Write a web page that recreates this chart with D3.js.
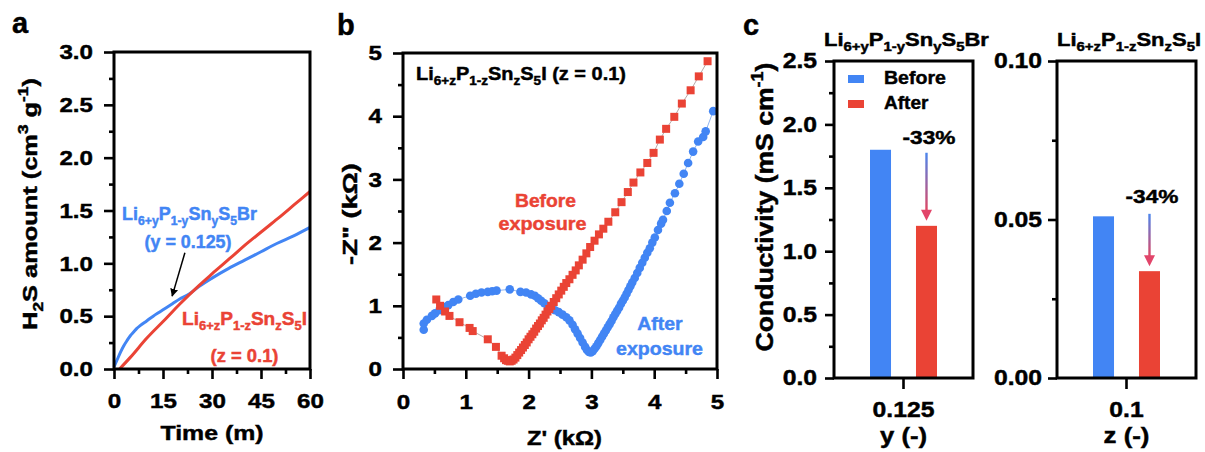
<!DOCTYPE html>
<html>
<head>
<meta charset="utf-8">
<script src="https://cdn.jsdelivr.net/npm/d3@7"></script>
<style>
  html, body { margin: 0; padding: 0; background: #fff; }
  svg { display: block; }
  text { font-family: "Liberation Sans", Arial, Helvetica, sans-serif; font-weight: bold; }
</style>
</head>
<body>
<svg id="fig" width="1205" height="452"></svg>
<script>
// ---------- data ----------
// Panel a: H2S evolution vs time (min, cm^3 g^-1)
const timeBr = [0, 1, 2, 3, 4, 5, 6, 7, 8, 10, 12, 14, 16, 18, 20, 23, 26, 30, 35, 40, 45, 50, 55, 60];
const h2sBr  = [0.02, 0.09, 0.16, 0.22, 0.27, 0.315, 0.35, 0.385, 0.41, 0.455, 0.50, 0.54, 0.58, 0.62, 0.66, 0.71, 0.78, 0.86, 0.95, 1.03, 1.11, 1.19, 1.26, 1.34];
const timeI  = [1.7, 5, 10, 16, 20, 26, 30, 36, 40, 46, 50, 55, 60];
const h2sI   = [0.0, 0.11, 0.29, 0.48, 0.61, 0.79, 0.90, 1.06, 1.17, 1.32, 1.42, 1.55, 1.68];
const timeTicks = [0, 15, 30, 45, 60];
const h2sTicks = [0, 0.5, 1.0, 1.5, 2.0, 2.5, 3.0];

// Panel b: Nyquist plot, Z' and -Z'' in kOhm
const zReBefore = [0.53, 0.59, 0.67, 0.74, 0.90, 1.06, 1.11, 1.35, 1.48, 1.57,
  1.61, 1.64, 1.67, 1.70, 1.73, 1.76, 1.79, 1.82, 1.85, 1.88, 1.91, 1.94, 1.97, 2.00, 2.03, 2.06, 2.09, 2.12, 2.15, 2.18,
  2.21, 2.24, 2.27, 2.30, 2.33, 2.36, 2.40, 2.44, 2.48, 2.52, 2.56, 2.60, 2.65, 2.70, 2.75, 2.80, 2.86, 2.92, 2.98, 3.05,
  3.12, 3.19, 3.27, 3.38, 3.48, 3.58, 3.67, 3.78, 3.89, 3.99, 4.09, 4.19, 4.32, 4.44, 4.58, 4.71, 4.85];
const zImBefore = [1.10, 1.00, 0.91, 0.84, 0.74, 0.65, 0.60, 0.47, 0.35, 0.21,
  0.17, 0.14, 0.13, 0.12, 0.13, 0.15, 0.18, 0.22, 0.26, 0.30, 0.34, 0.38, 0.42, 0.47, 0.51, 0.55, 0.59, 0.64, 0.68, 0.72,
  0.77, 0.81, 0.86, 0.91, 0.95, 1.00, 1.06, 1.12, 1.18, 1.24, 1.30, 1.36, 1.42, 1.49, 1.56, 1.64, 1.73, 1.83, 1.93, 2.03,
  2.13, 2.22, 2.33, 2.48, 2.64, 2.80, 2.95, 3.11, 3.26, 3.42, 3.63, 3.80, 3.99, 4.20, 4.41, 4.63, 4.87];
const zReAfter = [0.33, 0.33, 0.38, 0.46, 0.51, 0.58, 0.65, 0.72, 0.80, 0.88, 1.07, 1.16, 1.25, 1.35, 1.42, 1.49, 1.70, 1.87, 1.96,
  2.04, 2.10, 2.15, 2.20, 2.25, 2.31, 2.36, 2.42, 2.48, 2.54, 2.60, 2.65, 2.70, 2.74, 2.78, 2.82, 2.86, 2.90, 2.93, 2.96, 2.99,
  3.02, 3.05, 3.08, 3.11, 3.14, 3.17, 3.20, 3.23, 3.26, 3.29, 3.32, 3.35, 3.38, 3.41, 3.44, 3.47, 3.50, 3.53, 3.56, 3.59,
  3.62, 3.65, 3.69, 3.73, 3.77, 3.81, 3.85, 3.89, 3.93, 3.97, 4.01, 4.06, 4.11, 4.14, 4.20, 4.25, 4.33, 4.40, 4.47, 4.54,
  4.62, 4.70, 4.78, 4.82, 4.94];
const zImAfter = [0.62, 0.72, 0.78, 0.84, 0.88, 0.93, 0.98, 1.01, 1.06, 1.10, 1.16, 1.19, 1.21, 1.22, 1.23, 1.24, 1.26, 1.22, 1.21,
  1.18, 1.16, 1.12, 1.08, 1.04, 0.99, 0.96, 0.93, 0.90, 0.86, 0.82, 0.77, 0.70, 0.63, 0.56, 0.49, 0.42, 0.35, 0.30, 0.27, 0.26,
  0.28, 0.32, 0.36, 0.41, 0.46, 0.51, 0.56, 0.61, 0.66, 0.71, 0.76, 0.82, 0.87, 0.92, 0.97, 1.03, 1.08, 1.13, 1.19, 1.25,
  1.31, 1.37, 1.44, 1.52, 1.60, 1.68, 1.76, 1.84, 1.91, 2.00, 2.08, 2.20, 2.30, 2.36, 2.50, 2.63, 2.78, 2.93, 3.09, 3.26,
  3.44, 3.60, 3.67, 3.76, 4.08];
const zTicks = [0, 1, 2, 3, 4, 5];

// Panel c: conductivity before / after exposure (mS cm^-1)
const seriesNames = ["Before", "After"];
const brComposition = ["0.125"];
const brConductivity = [1.80, 1.20];
const brChange = "-33%";
const brTicks = [0, 0.5, 1.0, 1.5, 2.0, 2.5];
const iComposition = ["0.1"];
const iConductivity = [0.051, 0.0337];
const iChange = "-34%";
const iTicks = [0, 0.05, 0.10];

// ---------- styling ----------
const BLUE = "#4285F4";
const RED = "#EA4335";
const TICK_SX = 1.15;
const HEAVY = 0.45;   // outline added to glyphs for a heavier bold

const svg = d3.select("#fig");
const defs = svg.append("defs");

// text with sub/superscripts, horizontally fitted to a width or stretched by a factor
function addText(parent, o) {
  const size = o.size || 18;
  const fill = o.fill || "#000";
  const t = parent.append("text")
    .attr("x", 0).attr("y", 0)
    .attr("text-anchor", o.anchor || "middle")
    .attr("font-size", size)
    .attr("fill", fill)
    .attr("stroke", fill).attr("stroke-width", HEAVY);
  const parts = typeof o.parts === "string" ? [[o.parts, ""]] : o.parts;
  let shift = 0;
  parts.forEach(([s, kind]) => {
    let target = 0, fs = size;
    if (kind === "sub") { target = 0.30 * size; fs = 0.68 * size; }
    if (kind === "sup") { target = -0.42 * size; fs = 0.68 * size; }
    t.append("tspan").attr("dy", target - shift).attr("font-size", fs).text(s);
    shift = target;
  });
  let sx = o.sx || 1;
  if (o.width) {
    const w = t.node().getBBox().width;
    sx = o.width / w;
  }
  t.attr("transform", `translate(${o.x},${o.y}) rotate(${o.rotate || 0}) scale(${sx},1)`);
  t.attr("data-sx", sx);
  return t;
}

function stretchTicks(g, size) {
  g.selectAll(".tick text").each(function () {
    const t = d3.select(this);
    const x = +t.attr("x") || 0, y = +t.attr("y") || 0;
    t.attr("x", null).attr("y", null)
      .attr("font-size", size)
      .attr("stroke", "#000").attr("stroke-width", HEAVY)
      .attr("transform", `translate(${x},${y}) scale(${TICK_SX},1)`);
  });
}

function styleAxis(g) {
  g.select(".domain").remove();
  g.selectAll(".tick line").attr("stroke", "#000").attr("stroke-width", 2.6);
  g.selectAll(".tick text").attr("fill", "#000").attr("font-family", null);
  g.attr("font-family", null).attr("font-size", null);
}

function frame(x0, x1, y0, y1) {
  svg.append("rect")
    .attr("x", x0).attr("y", y1).attr("width", x1 - x0).attr("height", y0 - y1)
    .attr("fill", "none").attr("stroke", "#000").attr("stroke-width", 3);
}

function mids(ticks) {
  const m = [];
  for (let i = 0; i < ticks.length - 1; i++) m.push((ticks[i] + ticks[i + 1]) / 2);
  return m;
}

// arrowhead marker
defs.append("marker").attr("id", "arrBlack")
  .attr("viewBox", "0 0 10 10").attr("refX", 9).attr("refY", 5)
  .attr("markerWidth", 8).attr("markerHeight", 8).attr("markerUnits", "userSpaceOnUse")
  .attr("orient", "auto")
  .append("path").attr("d", "M0,0 L10,5 L0,10 z").attr("fill", "#000");

// ---------- panel a ----------
const xA = d3.scaleLinear().domain([0, 60]).range([114, 310]);
const yA = d3.scaleLinear().domain([0, 3]).range([369, 52]);

const lineA = d3.line().x(d => xA(d[0])).y(d => yA(d[1])).curve(d3.curveMonotoneX);
svg.append("path").datum(timeBr.map((t, i) => [t, h2sBr[i]]))
  .attr("d", lineA).attr("fill", "none").attr("stroke", BLUE).attr("stroke-width", 3);
svg.append("path").datum(timeI.map((t, i) => [t, h2sI[i]]))
  .attr("d", lineA).attr("fill", "none").attr("stroke", RED).attr("stroke-width", 3);

let g;
g = svg.append("g").attr("transform", `translate(${xA.range()[0]},0)`)
  .call(d3.axisLeft(yA).tickValues(h2sTicks).tickFormat(d3.format(".1f")).tickSize(10).tickPadding(11));
styleAxis(g); stretchTicks(g, 21);
g = svg.append("g").attr("transform", `translate(${xA.range()[0]},0)`)
  .call(d3.axisLeft(yA).tickValues(mids(h2sTicks)).tickFormat("").tickSize(5));
styleAxis(g);
g = svg.append("g").attr("transform", `translate(0,${yA.range()[0]})`)
  .call(d3.axisBottom(xA).tickValues(timeTicks).tickFormat(d3.format("d")).tickSize(10).tickPadding(14));
styleAxis(g); stretchTicks(g, 21);
g = svg.append("g").attr("transform", `translate(0,${yA.range()[0]})`)
  .call(d3.axisBottom(xA).tickValues(mids(timeTicks)).tickFormat("").tickSize(5));
styleAxis(g);
frame(114, 310, 369, 52);

addText(svg, { x: 37, y: 204, rotate: -90, size: 21, width: 252,
  parts: [["H", ""], ["2", "sub"], ["S amount (cm", ""], ["3", "sup"], [" g", ""], ["-1", "sup"], [")", ""]] });
addText(svg, { x: 212, y: 440, size: 21, width: 103, parts: "Time (m)" });

addText(svg, { x: 189.5, y: 220, size: 18, width: 135, fill: BLUE,
  parts: [["Li", ""], ["6+y", "sub"], ["P", ""], ["1-y", "sub"], ["Sn", ""], ["y", "sub"], ["S", ""], ["5", "sub"], ["Br", ""]] });
addText(svg, { x: 188, y: 248, size: 18, width: 87, fill: BLUE, parts: "(y = 0.125)" });
addText(svg, { x: 244.5, y: 325, size: 18, width: 125, fill: RED,
  parts: [["Li", ""], ["6+z", "sub"], ["P", ""], ["1-z", "sub"], ["Sn", ""], ["z", "sub"], ["S", ""], ["5", "sub"], ["I", ""]] });
addText(svg, { x: 244.5, y: 362, size: 18, width: 68, fill: RED, parts: "(z = 0.1)" });

// pointer from the Br label down to its curve
svg.append("line")
  .attr("x1", xA(21.7)).attr("y1", yA(1.10))
  .attr("x2", xA(17.8)).attr("y2", yA(0.69))
  .attr("stroke", "#000").attr("stroke-width", 1.5)
  .attr("marker-end", "url(#arrBlack)");

addText(svg, { x: 12, y: 33, size: 29, anchor: "start", parts: "a" });

// ---------- panel b ----------
const xB = d3.scaleLinear().domain([0, 5]).range([403, 717]);
const yB = d3.scaleLinear().domain([0, 5]).range([369, 53]);

const lineB = d3.line().x(d => xB(d[0])).y(d => yB(d[1]));
const after = zReAfter.map((x, i) => [x, zImAfter[i]]);
const before = zReBefore.map((x, i) => [x, zImBefore[i]]);

svg.append("path").datum(after).attr("d", lineB)
  .attr("fill", "none").attr("stroke", "#8fb4f0").attr("stroke-width", 1);
svg.append("g").selectAll("circle").data(after).join("circle")
  .attr("cx", d => xB(d[0])).attr("cy", d => yB(d[1])).attr("r", 4.3)
  .attr("fill", BLUE);

svg.append("path").datum(before).attr("d", lineB)
  .attr("fill", "none").attr("stroke", "#b8a8a8").attr("stroke-width", 1);
svg.append("g").selectAll("rect").data(before).join("rect")
  .attr("x", d => xB(d[0]) - 4).attr("y", d => yB(d[1]) - 4)
  .attr("width", 8).attr("height", 8)
  .attr("fill", RED);

g = svg.append("g").attr("transform", `translate(${xB.range()[0]},0)`)
  .call(d3.axisLeft(yB).tickValues(zTicks).tickFormat(d3.format("d")).tickSize(10).tickPadding(11));
styleAxis(g); stretchTicks(g, 21);
g = svg.append("g").attr("transform", `translate(${xB.range()[0]},0)`)
  .call(d3.axisLeft(yB).tickValues(mids(zTicks)).tickFormat("").tickSize(5));
styleAxis(g);
g = svg.append("g").attr("transform", `translate(0,${yB.range()[0]})`)
  .call(d3.axisBottom(xB).tickValues(zTicks).tickFormat(d3.format("d")).tickSize(10).tickPadding(15));
styleAxis(g); stretchTicks(g, 21);
g = svg.append("g").attr("transform", `translate(0,${yB.range()[0]})`)
  .call(d3.axisBottom(xB).tickValues(mids(zTicks)).tickFormat("").tickSize(5));
styleAxis(g);
frame(403, 717, 369, 53);

addText(svg, { x: 357, y: 214, rotate: -90, size: 21, width: 102, parts: "-Z\" (k\u03A9)" });
addText(svg, { x: 564.5, y: 445, size: 21, width: 75, parts: "Z' (k\u03A9)" });

addText(svg, { x: 416, y: 80, size: 18, anchor: "start", width: 210,
  parts: [["Li", ""], ["6+z", "sub"], ["P", ""], ["1-z", "sub"], ["Sn", ""], ["z", "sub"], ["S", ""], ["5", "sub"], ["I (z = 0.1)", ""]] });
addText(svg, { x: 545.5, y: 207, size: 19, width: 61, fill: RED, parts: "Before" });
addText(svg, { x: 542.5, y: 230, size: 19, width: 88, fill: RED, parts: "exposure" });
addText(svg, { x: 660, y: 330, size: 19, width: 46, fill: BLUE, parts: "After" });
addText(svg, { x: 659.5, y: 355, size: 19, width: 87, fill: BLUE, parts: "exposure" });

addText(svg, { x: 337, y: 35, size: 29, anchor: "start", parts: "b" });

// ---------- panel c ----------
const yC1 = d3.scaleLinear().domain([0, 2.5]).range([378, 61]);
const yC2 = d3.scaleLinear().domain([0, 0.1]).range([378, 61]);
const xC1 = d3.scaleBand().domain(brComposition).range([834, 973]);
const xC2 = d3.scaleBand().domain(iComposition).range([1057, 1196]);
const xInner = d3.scaleBand().domain(seriesNames).range([-46, 46]).paddingInner(0.543).paddingOuter(0.272);
const color = d3.scaleOrdinal().domain(seriesNames).range([BLUE, RED]);

const lg = defs.append("linearGradient").attr("id", "gradDown")
  .attr("x1", 0).attr("y1", 0).attr("x2", 0).attr("y2", 1);
lg.append("stop").attr("offset", "0%").attr("stop-color", "#4a86ee");
lg.append("stop").attr("offset", "100%").attr("stop-color", "#e4455f");

function barPanel(xS, yS, comp, vals, change, ticks, fmt, tickPad, arrowGap, labelLift) {
  const cx = xS(comp[0]) + xS.bandwidth() / 2;
  svg.append("g").selectAll("rect").data(seriesNames).join("rect")
    .attr("x", (s) => cx + xInner(s))
    .attr("y", (s, i) => yS(vals[i]))
    .attr("width", xInner.bandwidth())
    .attr("height", (s, i) => yS(0) - yS(vals[i]))
    .attr("fill", s => color(s));

  // drop arrow from the before level to the after level
  const ax = cx + xInner("After") + xInner.bandwidth() / 2;
  const yTop = yS(vals[0]) + arrowGap, yTip = yS(vals[1]) - 5;
  svg.append("rect").attr("x", ax - 1.2).attr("y", yTop).attr("width", 2.4).attr("height", yTip - yTop - 9)
    .attr("fill", "url(#gradDown)");
  svg.append("path")
    .attr("d", `M${ax - 5.5},${yTip - 11} L${ax + 5.5},${yTip - 11} L${ax},${yTip} Z`)
    .attr("fill", "#e2456a");
  addText(svg, { x: ax + 2.5, y: yS(vals[0]) - labelLift, size: 19, width: 53, parts: change });

  let ga = svg.append("g").attr("transform", `translate(${xS.range()[0]},0)`)
    .call(d3.axisLeft(yS).tickValues(ticks).tickFormat(fmt).tickSize(9).tickPadding(tickPad));
  styleAxis(ga); stretchTicks(ga, 21.5);
  ga = svg.append("g").attr("transform", `translate(${xS.range()[0]},0)`)
    .call(d3.axisLeft(yS).tickValues(mids(ticks)).tickFormat("").tickSize(5));
  styleAxis(ga);
  ga = svg.append("g").attr("transform", `translate(0,${yS.range()[0]})`)
    .call(d3.axisBottom(xS).tickSize(11).tickPadding(13));
  styleAxis(ga); stretchTicks(ga, 21.5);
  frame(xS.range()[0], xS.range()[1], yS.range()[0], yS.range()[1]);
}

barPanel(xC1, yC1, brComposition, brConductivity, brChange, brTicks, d3.format(".1f"), 8, 3, 6);
barPanel(xC2, yC2, iComposition, iConductivity, iChange, iTicks, d3.format(".2f"), 6, -2.5, 13.5);

// legend
seriesNames.forEach((s, i) => {
  const ly = 75 + i * 25;
  svg.append("rect").attr("x", 848).attr("y", ly).attr("width", 16).attr("height", 8).attr("fill", color(s));
  addText(svg, { x: 884, y: ly + 9, size: 19, anchor: "start", width: i === 0 ? 62 : 45, parts: s });
});

addText(svg, { x: 773, y: 207, rotate: -90, size: 23, width: 289,
  parts: [["Conductivity (mS cm", ""], ["-1", "sup"], [")", ""]] });
addText(svg, { x: 903.5, y: 443, size: 21.5, width: 47, parts: "y (-)" });
addText(svg, { x: 1126.5, y: 443, size: 21.5, width: 46, parts: "z (-)" });

const tBr = addText(svg, { x: 824, y: 46, size: 18, anchor: "start", width: 165,
  parts: [["Li", ""], ["6+y", "sub"], ["P", ""], ["1-y", "sub"], ["Sn", ""], ["y", "sub"], ["S", ""], ["5", "sub"], ["Br", ""]] });
addText(svg, { x: 1057, y: 46, size: 18, anchor: "start", sx: +tBr.attr("data-sx"),
  parts: [["Li", ""], ["6+z", "sub"], ["P", ""], ["1-z", "sub"], ["Sn", ""], ["z", "sub"], ["S", ""], ["5", "sub"], ["I", ""]] });

addText(svg, { x: 743, y: 35, size: 29, anchor: "start", parts: "c" });
</script>
</body>
</html>
